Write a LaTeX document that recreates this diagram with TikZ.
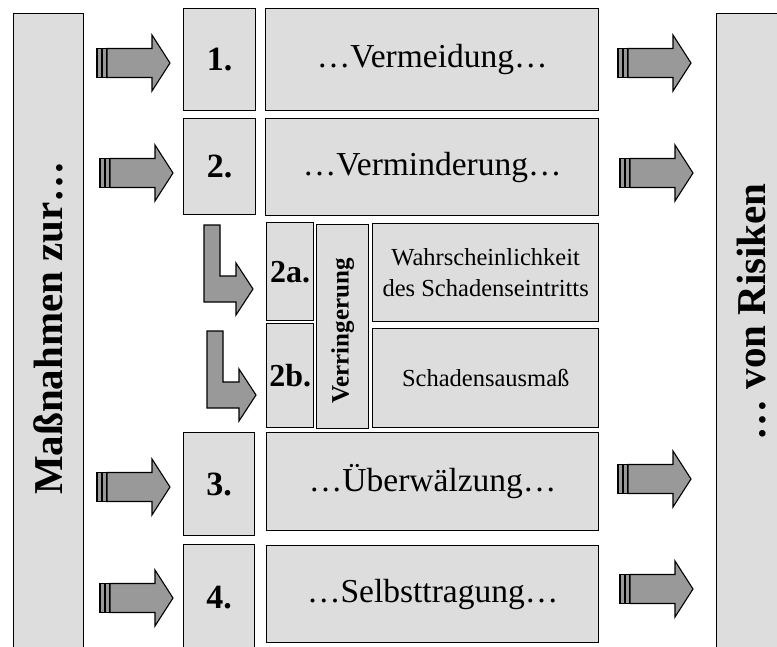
\documentclass[tikz,border=0pt]{standalone}
\usepackage{fontspec}
\setmainfont{Liberation Serif}
\definecolor{boxfill}{HTML}{DDDDDD}
\definecolor{arrfill}{HTML}{999999}
\tikzset{
  box/.style={draw=black, line width=1.4pt, fill=boxfill, inner sep=0pt, anchor=north west},
  arrline/.style={draw=black, line width=1.1pt, fill=arrfill, line join=miter},
  numtxt/.style={font=\bfseries\fontsize{34}{38}\selectfont},
  subnum/.style={font=\bfseries\fontsize{32}{36}\selectfont},
  bigtxt/.style={font=\fontsize{33.5}{38}\selectfont},
  sidetxt/.style={font=\bfseries\fontsize{41}{46}\selectfont, rotate=90},
  smalltxt/.style={font=\fontsize{24.5}{31}\selectfont, align=center},
  fatarrow/.pic={
    \draw[arrline] (0,-14.5) rectangle (5,14.5);
    \draw[arrline] (5,-14.5) rectangle (10,14.5);
    \draw[arrline] (10,-14.5) -- (55,-14.5) -- (55,-28) -- (73,0) -- (55,28) -- (55,14.5) -- (10,14.5) -- cycle;
  },
  bentarrow/.pic={
    \draw[arrline] (0,0) -- (16,0) -- (16,51) -- (32,51) -- (32,38) -- (49,64) -- (32,90) -- (32,77) -- (0,77) -- cycle;
  }
}
\begin{document}
\begin{tikzpicture}[x=1pt,y=-1pt]
\useasboundingbox (0,0) rectangle (777,646);
% side boxes
\node[box, minimum width=70pt, minimum height=640pt] (L) at (13,13) {};
\node[box, minimum width=75pt, minimum height=640pt] (R) at (716,13) {};
\node[sidetxt] (Ltxt) at (48,328) {Maßnahmen zur…};
\node[sidetxt] (Rtxt) at (752,312) {… von Risiken};
% number boxes
\node[box, numtxt, minimum width=72pt, minimum height=102pt] (n1) at (183,8) {1.};
\node[box, numtxt, minimum width=72pt, minimum height=96pt] (n2) at (183,118) {2.};
\node[box, numtxt, minimum width=71pt, minimum height=103pt] (n3) at (183,432) {3.};
\node[box, numtxt, minimum width=71pt, minimum height=106pt] (n4) at (183,544) {4.};
% label boxes
\node[box, bigtxt, minimum width=333pt, minimum height=102pt] (v1) at (265,8) {…Vermeidung…};
\node[box, bigtxt, minimum width=333pt, minimum height=97pt] (v2) at (265,118) {…Verminderung…};
\node[box, bigtxt, minimum width=332pt, minimum height=98pt] (v3) at (266,432) {…Überwälzung…};
\node[box, bigtxt, minimum width=332pt, minimum height=97pt] (v4) at (266,545) {…Selbsttragung…};
% sub boxes
\node[box, subnum, minimum width=47pt, minimum height=98pt] (a2) at (266,222) {2a.};
\node[box, subnum, minimum width=47pt, minimum height=104pt] (b2) at (266,323) {2b.};
\node[box, minimum width=52pt, minimum height=204pt] (vr) at (316,224) {};
\node[font=\bfseries\fontsize{25}{30}\selectfont, rotate=90] (vrtxt) at ([yshift=-4pt]vr.center) {Verringerung};
\node[box, smalltxt, minimum width=226pt, minimum height=98pt] (w) at (372,223) {Wahrscheinlichkeit\\des Schadenseintritts};
\node[box, smalltxt, minimum width=226pt, minimum height=99pt] (s) at (372,328) {Schadensausmaß};
% arrows left
\pic at (97,63) {fatarrow};
\pic at (100,173) {fatarrow};
\pic at (97,487) {fatarrow};
\pic at (100,598) {fatarrow};
% arrows right
\pic at (618,63) {fatarrow};
\pic at (620,173) {fatarrow};
\pic at (618,479) {fatarrow};
\pic at (620,589) {fatarrow};
% bent arrows
\pic at (204,225) {bentarrow};
\pic at (207,331) {bentarrow};
\end{tikzpicture}
\end{document}
